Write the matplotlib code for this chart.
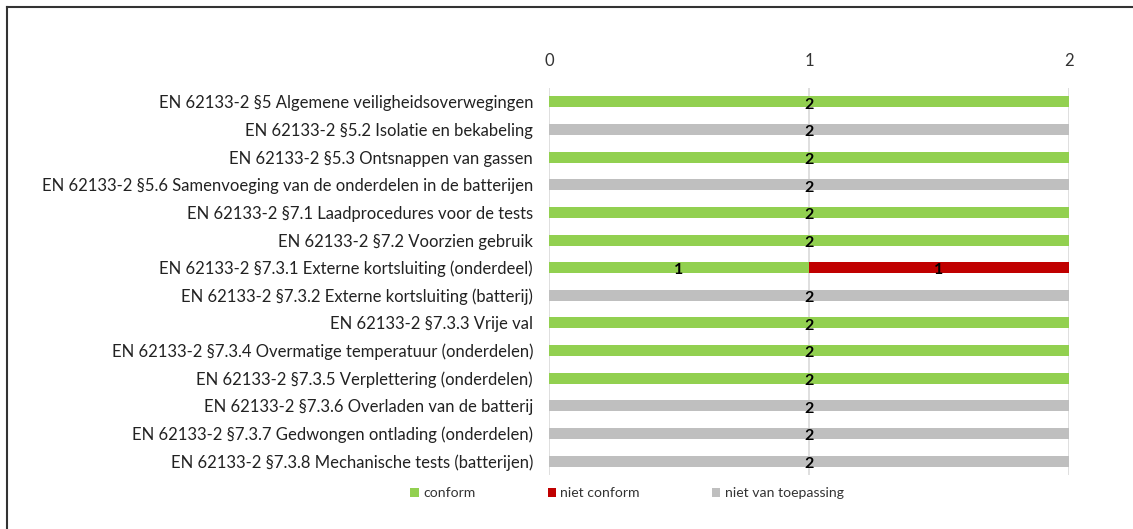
import matplotlib
matplotlib.use("Agg")
import matplotlib.pyplot as plt
from matplotlib.lines import Line2D
from matplotlib.patches import Patch
import numpy as np

plt.rcParams['font.family'] = ['Lato', 'DejaVu Sans']

categories = [
    "EN 62133-2 §5 Algemene veiligheidsoverwegingen",
    "EN 62133-2 §5.2 Isolatie en bekabeling",
    "EN 62133-2 §5.3 Ontsnappen van gassen",
    "EN 62133-2 §5.6 Samenvoeging van de onderdelen in de batterijen",
    "EN 62133-2 §7.1 Laadprocedures voor de tests",
    "EN 62133-2 §7.2 Voorzien gebruik",
    "EN 62133-2 §7.3.1 Externe kortsluiting (onderdeel)",
    "EN 62133-2 §7.3.2 Externe kortsluiting (batterij)",
    "EN 62133-2 §7.3.3 Vrije val",
    "EN 62133-2 §7.3.4 Overmatige temperatuur (onderdelen)",
    "EN 62133-2 §7.3.5 Verplettering (onderdelen)",
    "EN 62133-2 §7.3.6 Overladen van de batterij",
    "EN 62133-2 §7.3.7 Gedwongen ontlading (onderdelen)",
    "EN 62133-2 §7.3.8 Mechanische tests (batterijen)",
]
conform = [2, 0, 2, 0, 2, 2, 1, 0, 2, 2, 2, 0, 0, 0]
niet_conform = [0, 0, 0, 0, 0, 0, 1, 0, 0, 0, 0, 0, 0, 0]
niet_van_toepassing = [0, 2, 0, 2, 0, 0, 0, 2, 0, 0, 0, 2, 2, 2]
series_names = ["conform", "niet conform", "niet van toepassing"]
colors = ["#92D050", "#C00000", "#BFBFBF"]
xticks = [0, 1, 2]

W, H = 1133, 529
fig = plt.figure(figsize=(W / 100, H / 100), dpi=100)
ax = fig.add_axes([549 / W, 1 - 475 / H, (1069 - 549) / W, (475 - 88) / H])

y = np.arange(len(categories))
left = np.zeros(len(categories))
series = [conform, niet_conform, niet_van_toepassing]
for vals, name, col in zip(series, series_names, colors):
    vals = np.array(vals, dtype=float)
    ax.barh(y, vals, left=left, height=0.4, color=col, label=name, zorder=2)
    for yi, (l, v) in enumerate(zip(left, vals)):
        if v > 0:
            ax.text(l + v / 2, yi + 0.1, f"{int(v)}", ha='center', va='center',
                    fontsize=11.5, fontweight='bold', color='black', zorder=3)
    left = left + vals

ax.set_xlim(0, 2)
ax.set_ylim(len(categories) - 0.5, -0.5)
ax.set_xticks(xticks)
ax.set_xticklabels([str(t) for t in xticks])
ax.xaxis.tick_top()
ax.tick_params(axis='x', length=0, pad=14, labelsize=12, labelcolor='#333333')
ax.set_yticks(y)
ax.set_yticklabels(categories)
ax.tick_params(axis='y', length=0, pad=11.5, labelsize=12, labelcolor='#222222')
for s in ax.spines.values():
    s.set_visible(False)
ax.grid(axis='x', color='#D9D9D9', linewidth=1.2, zorder=0)
ax.set_axisbelow(True)

handles = [Patch(facecolor=c, edgecolor='none') for c in colors]
leg = fig.legend(handles, series_names, loc='center', bbox_to_anchor=(627 / W, 1 - 493 / H),
                 ncol=3, frameon=False, fontsize=10.1, handlelength=0.6, handleheight=0.6,
                 handletextpad=0.3, columnspacing=5.15)
for t in leg.get_texts():
    t.set_color('#333333')

# frame border (left and top visible)
fig.add_artist(Line2D([6.5 / W, 6.5 / W], [0, 1 - 6.5 / H], transform=fig.transFigure,
                      color='#333333', linewidth=1.5))
fig.add_artist(Line2D([6.5 / W, 1], [1 - 6.5 / H, 1 - 6.5 / H], transform=fig.transFigure,
                      color='#333333', linewidth=1.5))

fig.savefig("out.png", dpi=100)
